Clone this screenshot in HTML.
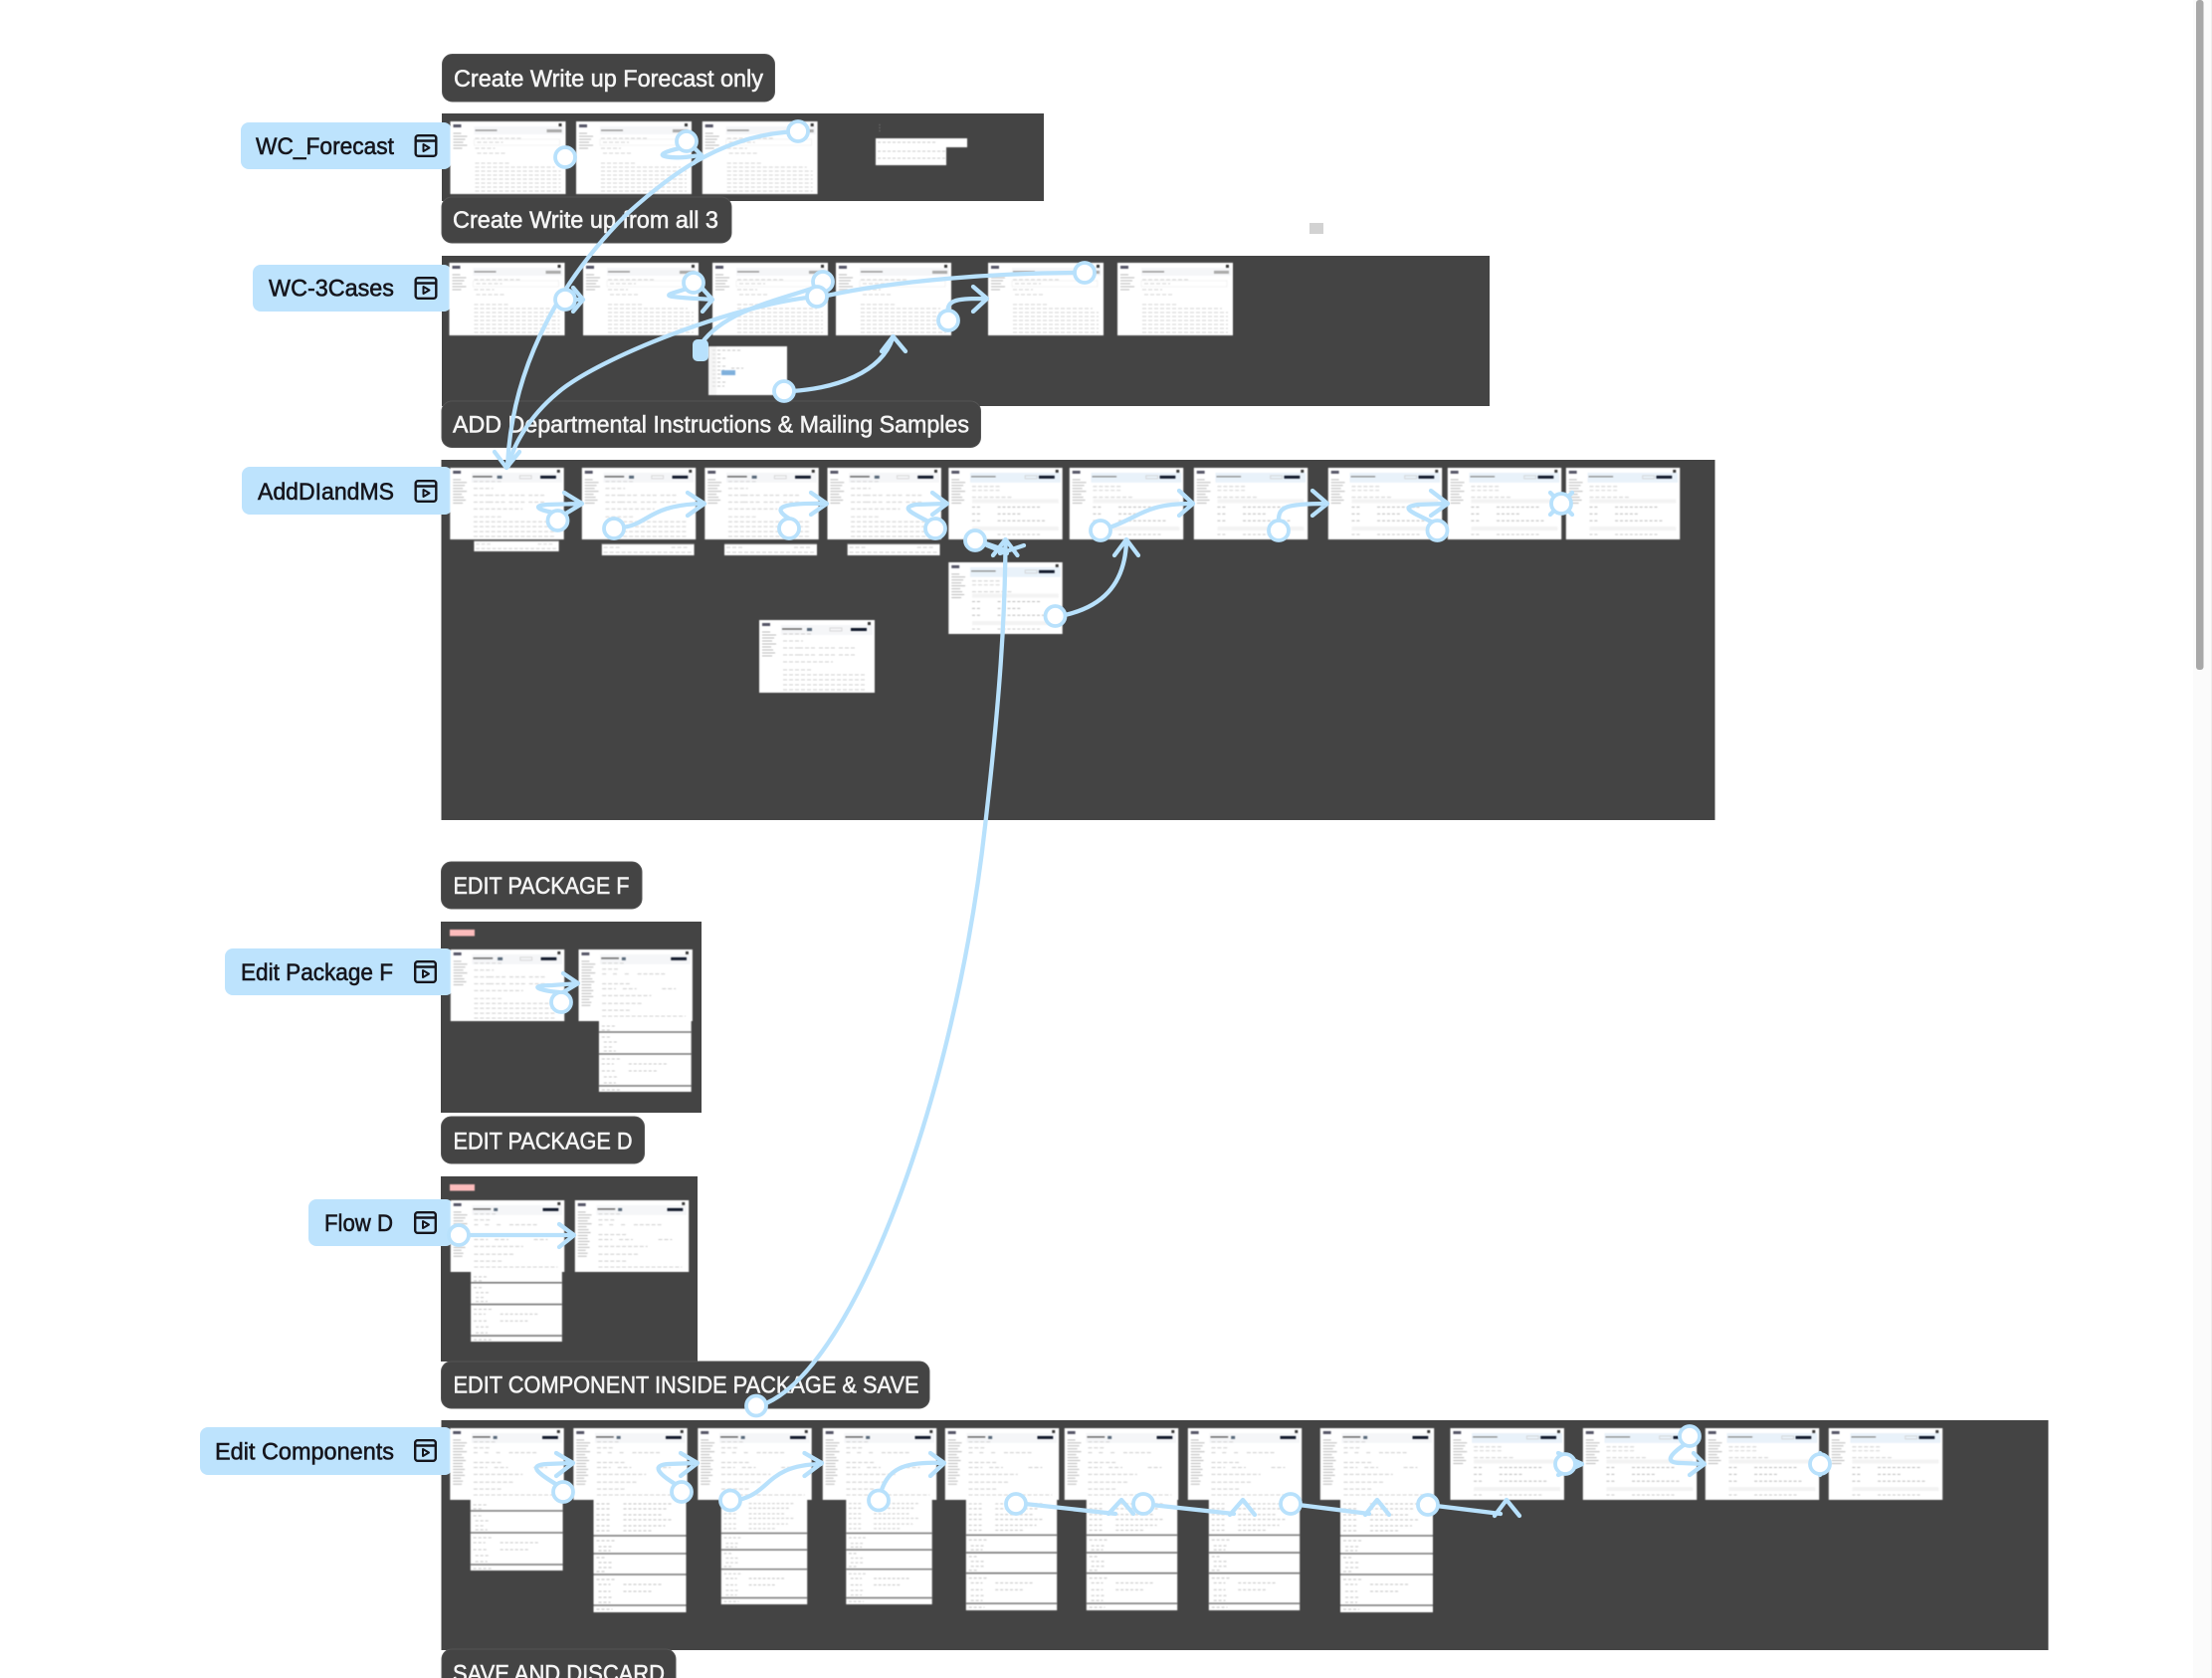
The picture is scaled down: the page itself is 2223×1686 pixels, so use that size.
<!DOCTYPE html>
<html><head><meta charset="utf-8"><style>
html,body{margin:0;padding:0;background:#fff;overflow:hidden}
svg{display:block}
.p{fill:#444}
.t{fill:#444;stroke:#555;stroke-width:1}
.l{fill:#bde3fd}
.tt{font:500 24px "Liberation Sans",sans-serif;fill:#f5f5f5;stroke:#f5f5f5;stroke-width:.55}
.lt{font:500 24px "Liberation Sans",sans-serif;fill:#15151c;stroke:#15151c;stroke-width:.55}
.c{fill:none;stroke:#b8e1fc;stroke-width:4.3;stroke-linecap:round;stroke-linejoin:round}
.n{fill:#fff;stroke:#b8e1fc;stroke-width:3.8}
.th{filter:blur(.5px)}
</style></head><body>
<svg xmlns="http://www.w3.org/2000/svg" width="2223" height="1686" viewBox="0 0 2223 1686">
<defs>
<symbol id="i" viewBox="0 0 23 23"><rect x="1.2" y="1.2" width="20.6" height="20.6" rx="2.5" fill="none" stroke="#15151c" stroke-width="2.4"/><path d="M1 6.5h21" stroke="#15151c" stroke-width="2.4"/><path d="M9 10l6 3.5-6 3.5z" fill="none" stroke="#15151c" stroke-width="2" stroke-linejoin="round"/></symbol>
<symbol id="a" viewBox="0 0 116 73"><rect width="116" height="73" fill="#fff"/><rect x="3" y="3" width="8" height="3" fill="#556"/><rect x="109" y="2" width="3" height="3" fill="#333"/><path d="M3 12h8M3 15h14M3 18h12M3 21h10M3 24h14M3 27h9" stroke="#bbb" fill="none"/><rect x="24" y="5" width="90" height="8" fill="#f5f6f8"/><path d="M25 9h22" stroke="#888" stroke-width="1.2"/><rect x="97" y="8" width="15" height="3" fill="#aaa"/><path d="M25 17h48M27 21h26M25 27h20M27 32h30M25 42h35M25 46h80M25 50h86M25 54h86M25 58h86M25 62h86M25 66h86M25 70h86" stroke="#d4d4d4" fill="none" stroke-dasharray="4 2"/><rect x="24" y="18" width="86" height="6" fill="none" stroke="#eee" stroke-width=".7"/></symbol>
<symbol id="b" viewBox="0 0 116 73"><rect width="116" height="73" fill="#fff"/><rect x="3" y="3" width="8" height="3" fill="#556"/><rect x="109" y="2" width="3" height="3" fill="#333"/><path d="M3 12h8M3 15h14M3 18h12M3 21h10M3 24h14M3 27h9M3 30h11M3 33h13M3 36h10" stroke="#bbb" fill="none"/><rect x="22" y="5" width="92" height="10" fill="#f5f6f8"/><path d="M23 9h20" stroke="#666" stroke-width="1.4"/><rect x="48" y="8" width="5" height="3" fill="#567"/><rect x="71" y="8" width="12" height="3" fill="none" stroke="#ccc" stroke-width=".7"/><rect x="92" y="8" width="16" height="3" fill="#10182a"/><path d="M24 14h30M24 21h20M24 28h18M40 28h18M60 28h18M80 28h18M24 35h18M40 35h18M60 35h18M80 35h18M24 42h50M24 50h30M24 55h82M24 60h82M24 65h82M24 70h82" stroke="#d0d0d0" fill="none" stroke-dasharray="4 2"/></symbol>
<symbol id="c" viewBox="0 0 116 73"><rect width="116" height="73" fill="#fff"/><rect x="3" y="3" width="8" height="3" fill="#556"/><rect x="109" y="2" width="3" height="3" fill="#333"/><path d="M3 12h8M3 15h14M3 18h12M3 21h10M3 24h14M3 27h9M3 30h11M3 33h13M3 36h10" stroke="#bbb" fill="none"/><rect x="22" y="5" width="92" height="10" fill="#e9f2fa"/><path d="M23 9h25" stroke="#888" stroke-width="1.2"/><rect x="78" y="8" width="12" height="3" fill="none" stroke="#ccc" stroke-width=".7"/><rect x="92" y="8" width="16" height="3" fill="#10182a"/><path d="M24 19h30M24 23h30M24 30h40" stroke="#d0d0d0" fill="none" stroke-dasharray="4 2"/><rect x="24" y="32" width="88" height="4" fill="#f3f3f3"/><path d="M24 40h8M50 40h45M24 47h8M50 47h25M24 54h8M50 54h50" stroke="#bbb" fill="none" stroke-dasharray="3 2"/><rect x="24" y="60" width="88" height="4" fill="#f3f3f3"/><path d="M24 68h8M50 68h45" stroke="#c4c4c4" fill="none" stroke-dasharray="3 2"/></symbol>
<symbol id="d" viewBox="0 0 116 73"><rect width="116" height="73" fill="#fff"/><rect x="3" y="3" width="8" height="3" fill="#556"/><rect x="109" y="2" width="3" height="3" fill="#333"/><path d="M3 12h8M3 15h14M3 18h12M3 21h10M3 24h14M3 27h9M3 30h11M3 33h13M3 36h10M3 39h10M3 42h12M3 45h10M3 48h12M3 51h8M3 54h10M3 57h9" stroke="#bbb" fill="none"/><rect x="22" y="5" width="92" height="10" fill="#f5f6f8"/><path d="M23 9h18" stroke="#666" stroke-width="1.4"/><rect x="44" y="8" width="4" height="3" fill="#567"/><rect x="94" y="8" width="16" height="3" fill="#10182a"/><path d="M24 14h24M24 20h18M24 25h6M35 25h6M47 25h6M60 25h30M24 35h30M24 40h14M45 40h14M85 40h14M24 47h50M24 55h40M24 62h30M24 68h85" stroke="#cdcdcd" fill="none" stroke-dasharray="4 2"/></symbol>
<symbol id="e" viewBox="0 0 93 12"><rect width="93" height="12" fill="#fff"/><rect y="0" width="93" height="1" fill="#777"/><path d="M2 4h16M70 4h18M2 9h88" stroke="#d0d0d0" fill="none" stroke-dasharray="4 2"/></symbol>
<symbol id="s" viewBox="0 0 93 71"><rect width="93" height="71" fill="#fff"/><path d="M0 11h93M0 33h93M0 65h93" stroke="#777" stroke-width="1.6"/><path d="M3 5h15M3 9h10M3 16h10M5 21h14M5 26h10M5 30h12M3 38h20M3 43h12M30 43h40M3 50h14M30 50h30M5 56h14M5 62h12M3 69h20" stroke="#c8c8c8" fill="none" stroke-dasharray="3 2"/></symbol>
<symbol id="t" viewBox="0 0 93 113"><rect width="93" height="113" fill="#fff"/><path d="M0 36h93M0 54h93M0 75h93M0 106h93" stroke="#777" stroke-width="1.6"/><path d="M3 4h15M30 4h50M3 9h15M30 9h45M3 15h15M30 15h40M3 20h15M30 20h50M3 26h15M30 26h42M3 31h15M30 31h30M3 41h20M5 47h14M5 51h12M3 58h10M5 63h14M5 68h14M3 72h10M3 80h20M5 85h12M30 85h40M5 92h12M30 92h30M5 98h14M5 103h12M3 110h16" stroke="#c4c4c4" fill="none" stroke-dasharray="3 2"/></symbol>
</defs>
<rect width="2223" height="1686" fill="#fff"/>
<rect x="2204" y="0" width="18" height="1686" fill="#fbfbfb"/>
<rect x="2222" y="0" width="1" height="1686" fill="#eee"/>
<rect x="2207" y="0" width="7.5" height="673" rx="3" fill="#a8a8a8"/>
<rect x="1316" y="224" width="14" height="11" fill="#d2d2d2"/>

<rect class="p" x="444" y="114" width="605" height="88"/>
<rect class="p" x="444" y="257" width="1053" height="151"/>
<rect class="p" x="443.5" y="462" width="1280" height="362"/>
<rect class="p" x="443" y="926" width="262" height="192"/>
<rect class="p" x="443" y="1182" width="258" height="186"/>
<rect class="p" x="443.5" y="1427" width="1615" height="231"/>

<rect class="l" x="242" y="123" width="212" height="47" rx="8"/>
<rect class="l" x="254" y="266" width="200" height="47" rx="8"/>
<rect class="l" x="243" y="469" width="212" height="48" rx="8"/>
<rect class="l" x="226" y="953" width="230" height="47" rx="8"/>
<rect class="l" x="310" y="1205" width="146" height="47" rx="8"/>
<rect class="l" x="201" y="1434" width="254" height="48" rx="8"/>
<text class="lt" x="257" y="155" textLength="139" lengthAdjust="spacingAndGlyphs">WC_Forecast</text>
<text class="lt" x="270" y="297.5" textLength="126" lengthAdjust="spacingAndGlyphs">WC-3Cases</text>
<text class="lt" x="259" y="502" textLength="137" lengthAdjust="spacingAndGlyphs">AddDIandMS</text>
<text class="lt" x="242" y="985" textLength="153" lengthAdjust="spacingAndGlyphs">Edit Package F</text>
<text class="lt" x="326" y="1237" textLength="69" lengthAdjust="spacingAndGlyphs">Flow D</text>
<text class="lt" x="216" y="1466.5" textLength="180" lengthAdjust="spacingAndGlyphs">Edit Components</text>
<use href="#i" x="416.5" y="135" width="23" height="23"/>
<use href="#i" x="416.5" y="278" width="23" height="23"/>
<use href="#i" x="416.5" y="482" width="23" height="23"/>
<use href="#i" x="416" y="965" width="23" height="23"/>
<use href="#i" x="416" y="1217" width="23" height="23"/>
<use href="#i" x="416" y="1446" width="23" height="23"/>

<g class="th">
<!-- panel 1 -->
<use href="#a" x="452.5" y="122" width="116" height="73"/>
<use href="#a" x="579" y="122" width="116" height="73"/>
<use href="#a" x="705.7" y="122" width="116" height="73"/>
<rect x="880" y="139" width="92" height="9" fill="#fff"/><rect x="880" y="148" width="71" height="18" fill="#fff"/>
<path d="M882 143h60M882 152h68M882 159h68" stroke="#ccc" fill="none" stroke-dasharray="3 2"/>
<path d="M884 125v7" stroke="#888" stroke-dasharray="1 2"/>
<!-- panel 2 -->
<use href="#a" x="451.5" y="264" width="116" height="73"/>
<use href="#a" x="586" y="264" width="116" height="73"/>
<use href="#a" x="716" y="264" width="116" height="73"/>
<use href="#a" x="840" y="264" width="116" height="73"/>
<use href="#a" x="993" y="264" width="116" height="73"/>
<use href="#a" x="1123" y="264" width="116" height="73"/>
<!-- panel 3 -->
<use href="#e" x="472.5" y="543" width="93" height="11"/>
<use href="#e" x="604.7" y="546" width="93" height="12"/>
<use href="#e" x="728" y="546" width="93" height="12"/>
<use href="#e" x="851.6" y="546" width="93" height="12"/>
<use href="#b" x="451.5" y="470" width="116" height="72"/>
<use href="#b" x="584" y="470" width="116" height="72"/>
<use href="#b" x="707.5" y="470" width="116" height="72"/>
<use href="#b" x="830.7" y="470" width="116" height="72"/>
<use href="#c" x="952.5" y="470" width="116" height="72"/>
<use href="#c" x="1074" y="470" width="116" height="72"/>
<use href="#c" x="1199" y="470" width="116" height="72"/>
<use href="#c" x="1334" y="470" width="116" height="72"/>
<use href="#c" x="1454" y="470" width="116" height="72"/>
<use href="#c" x="1573" y="470" width="116" height="72"/>
<use href="#c" x="952.5" y="565" width="116" height="72"/>
<use href="#b" x="763" y="623" width="116" height="73"/>
<!-- panel 4 -->
<rect x="452" y="934" width="25" height="6.5" fill="#fcbcbc"/>
<use href="#b" x="452" y="954" width="116" height="72"/>
<use href="#s" x="601.8" y="1026" width="93" height="71"/>
<use href="#d" x="580.7" y="954" width="116" height="72"/>
<!-- panel 5 -->
<rect x="452" y="1190" width="25" height="6.5" fill="#fcbcbc"/>
<use href="#s" x="472.5" y="1278" width="93" height="70"/>
<use href="#d" x="452" y="1206" width="116" height="72"/>
<use href="#d" x="577" y="1206" width="116" height="72"/>
<!-- panel 6 -->
<use href="#s" x="472.7" y="1507" width="93" height="71"/>
<use href="#t" x="596.5" y="1507" width="93" height="113"/>
<use href="#t" x="721.5" y="1507" width="93" height="105"/>
<use href="#t" x="847" y="1507" width="93" height="105"/>
<use href="#t" x="970" y="1507" width="93" height="111"/>
<use href="#t" x="1091" y="1507" width="93" height="111"/>
<use href="#t" x="1214" y="1507" width="93" height="111"/>
<use href="#t" x="1347" y="1507" width="93" height="113"/>
<use href="#d" x="451.5" y="1435" width="116" height="72"/>
<use href="#d" x="575.5" y="1435" width="116" height="72"/>
<use href="#d" x="700.5" y="1435" width="116" height="72"/>
<use href="#d" x="826" y="1435" width="116" height="72"/>
<use href="#d" x="949" y="1435" width="116" height="72"/>
<use href="#d" x="1069" y="1435" width="116" height="72"/>
<use href="#d" x="1193" y="1435" width="116" height="72"/>
<use href="#d" x="1326" y="1435" width="116" height="72"/>
<use href="#c" x="1456.7" y="1435" width="116" height="72"/>
<use href="#c" x="1590" y="1435" width="116" height="72"/>
<use href="#c" x="1713" y="1435" width="116" height="72"/>
<use href="#c" x="1837" y="1435" width="116" height="72"/>
</g>

<!-- titles -->
<rect class="t" x="444.5" y="54.5" width="334" height="47.5" rx="10"/>
<rect class="t" x="444" y="198" width="291" height="46" rx="10"/>
<rect class="t" x="444" y="403" width="541.5" height="46.5" rx="10"/>
<rect class="t" x="443.5" y="866" width="201.5" height="47" rx="10"/>
<rect class="t" x="443.5" y="1122" width="204" height="47" rx="10"/>
<rect class="t" x="443.5" y="1368" width="490.5" height="47" rx="10"/>
<rect class="t" x="444" y="1657" width="235" height="50" rx="10"/>
<text class="tt" x="456" y="87" textLength="311" lengthAdjust="spacingAndGlyphs">Create Write up Forecast only</text>
<text class="tt" x="455" y="229" textLength="267" lengthAdjust="spacingAndGlyphs">Create Write up from all 3</text>
<text class="tt" x="455" y="434.5" textLength="519" lengthAdjust="spacingAndGlyphs">ADD Departmental Instructions &amp; Mailing Samples</text>
<text class="tt" x="455.5" y="898" textLength="177" lengthAdjust="spacingAndGlyphs">EDIT PACKAGE F</text>
<text class="tt" x="455.5" y="1154.5" textLength="180" lengthAdjust="spacingAndGlyphs">EDIT PACKAGE D</text>
<text class="tt" x="455.5" y="1399.5" textLength="468" lengthAdjust="spacingAndGlyphs">EDIT COMPONENT INSIDE PACKAGE &amp; SAVE</text>
<text class="tt" x="455" y="1689.5" textLength="213" lengthAdjust="spacingAndGlyphs">SAVE AND DISCARD</text>

<!-- connectors -->
<g class="c">
<path d="M690 148C675 150 660 155 668 157C680 160 695 157 704 156"/><path d="M697 148L705 156L697 164"/>
<path d="M801 132C730 135 680 170 630 215C570 275 515 360 510 468"/>
<path d="M497 454L509 470L522 454"/>
<path d="M567 301L585 301M576 289L586 301L576 313"/>
<path d="M696 288C680 294 665 296 676 298C690 300 705 300 716 301M706 290L716 301L706 313"/>
<path d="M827 286C790 300 730 310 705 345"/>
<path d="M821 298C740 305 600 360 560 395C530 420 515 450 511 468"/>
<path d="M1090 274C1000 274 900 282 831 297"/>
<path d="M953 315C950 300 965 300 991 300M978 288L992 300L978 313"/>
<path d="M556 515C540 512 535 508 550 507L584 506M567 495L585 506L567 517"/>
<path d="M625 530C652 527 652 507 707 506M691 495L708 506L691 518"/>
<path d="M793 521C775 510 785 505 830 506M815 495L831 506L815 517"/>
<path d="M935 525C915 515 905 510 920 507L951 506M937 495L952 506L937 517"/>
<path d="M985 544L1008 552"/>
<path d="M998 558L1010.5 542L1022.5 558M992 548L1012 556M1029 548L1005 556"/>
<path d="M770 1410C860 1370 960 1100 990 830C1005 700 1010 620 1010.5 545"/>
<path d="M1070 618C1105 610 1130 590 1132 545M1120 558L1132 542L1144 558"/>
<path d="M1115 530C1145 520 1150 506 1198 506M1185 493L1199 506L1185 518"/>
<path d="M1285 523C1285 510 1290 506 1333 506M1319 493L1334 506L1319 518"/>
<path d="M1440 525C1420 515 1405 510 1425 507L1454 506M1438 493L1455 506L1438 518"/>
<path d="M1558 495L1569 506L1558 517M1580 495L1569 506L1580 517"/>
<path d="M562 997C540 995 530 990 555 990L581 988M566 978L581 988L566 997"/>
<path d="M461 1241L577 1241M562 1230L577 1241L562 1253"/>
<path d="M560 1492C540 1480 530 1472 550 1471L575 1470M559 1460L576 1470L559 1483"/>
<path d="M680 1492C660 1480 655 1472 672 1471L700 1470M684 1460L701 1470L684 1483"/>
<path d="M742 1507C775 1500 770 1472 825 1471M808.5 1460L826 1470L808.5 1483"/>
<path d="M886 1497C893 1478 905 1468 948 1470M935 1460L949 1470L935 1483"/>
<path d="M1030 1511L1121 1521M1114 1521L1127 1507L1139 1521"/>
<path d="M1157 1512L1240 1521M1236 1522L1249 1507L1261 1522"/>
<path d="M1305 1512L1376 1521M1372 1522L1384 1507L1396 1522"/>
<path d="M1443 1513L1508 1521M1502 1523L1514 1507L1527 1523"/>
<path d="M1566 1460L1590 1471L1566 1482"/>
<path d="M1695 1450C1680 1460 1670 1470 1690 1470L1712 1471M1702 1460L1713 1471L1698 1482"/>
<path d="M1829 1460L1838 1471L1829 1482"/>
</g>
<rect x="696" y="341" width="16" height="22" rx="5" fill="#b8e1fc"/>
<g class="th">
<rect x="712" y="348" width="79" height="49" fill="#fff"/>
<path d="M716 352h30M716 356h10M716 360h14M716 364h10M716 368h14M716 372h12M716 376h14M716 380h10M716 384h14M716 388h12M735 370h12" stroke="#c4c4c4" fill="none" stroke-dasharray="3 2"/>
<rect x="725" y="372" width="14" height="5" fill="#7fb0dc"/>
<rect x="712" y="348" width="8" height="49" fill="#eee" opacity=".6"/>
</g>
<g class="c"><path d="M796 393C840 390 885 375 897 340M886 353L897.5 338L910 353"/></g>
<g class="n">
<circle cx="568" cy="158" r="10"/><circle cx="690" cy="142" r="10"/><circle cx="802" cy="132" r="10"/>
<circle cx="568" cy="301" r="10"/><circle cx="697" cy="284" r="10"/><circle cx="827" cy="283" r="10"/><circle cx="821" cy="298" r="10"/><circle cx="953" cy="322" r="10"/><circle cx="1090" cy="274" r="10"/><circle cx="788" cy="393" r="10"/>
<circle cx="560.5" cy="523" r="10"/><circle cx="617" cy="531" r="10"/><circle cx="793" cy="531" r="10"/><circle cx="940" cy="531" r="10"/><circle cx="980" cy="543" r="10"/><circle cx="1060.5" cy="619" r="10"/><circle cx="1106" cy="533" r="10"/><circle cx="1285" cy="533" r="10"/><circle cx="1444.5" cy="533" r="10"/><circle cx="1569" cy="506" r="10"/>
<circle cx="564" cy="1007" r="10"/><circle cx="461" cy="1241" r="10"/>
<circle cx="760" cy="1412.5" r="10"/>
<circle cx="566" cy="1499" r="10"/><circle cx="685" cy="1499" r="10"/><circle cx="734" cy="1507.5" r="10"/><circle cx="883" cy="1507.5" r="10"/><circle cx="1021" cy="1511" r="10"/><circle cx="1149" cy="1511" r="10"/><circle cx="1297" cy="1511" r="10"/><circle cx="1435" cy="1512" r="10"/><circle cx="1573" cy="1471" r="10"/><circle cx="1698" cy="1443" r="10"/><circle cx="1829" cy="1471" r="10"/>
</g>
</svg>
</body></html>
